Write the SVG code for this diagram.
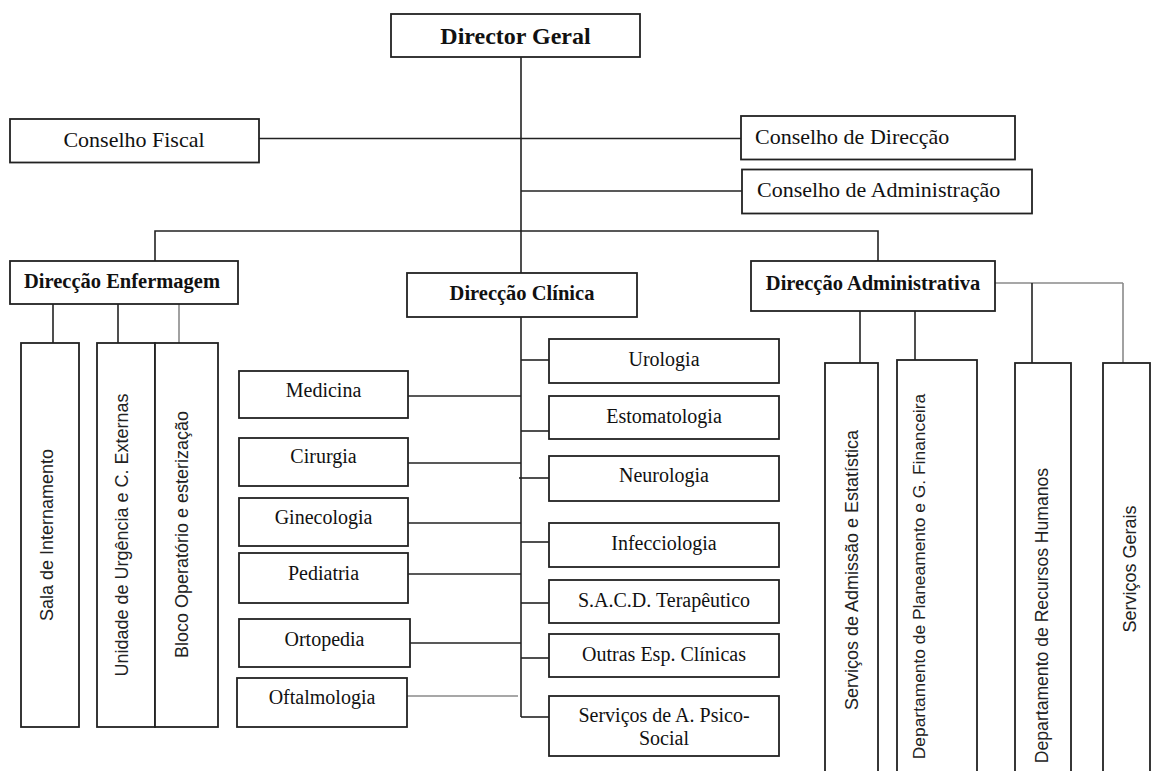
<svg xmlns="http://www.w3.org/2000/svg" width="1152" height="771" viewBox="0 0 1152 771">
<style>
  .box { fill: #ffffff; stroke: #222222; stroke-width: 1.8; }
  .ln { fill: none; stroke: #222222; stroke-width: 1.6; }
  .lg { fill: none; stroke: #8a8a8a; stroke-width: 1.6; }
  .t { font-family: "Liberation Serif", "Times New Roman", serif; font-size: 20px; fill: #111111; text-anchor: middle; }
  .tb { font-family: "Liberation Serif", "Times New Roman", serif; font-size: 20.5px; font-weight: bold; fill: #111111; text-anchor: middle; }
  .tc { font-family: "Liberation Serif", "Times New Roman", serif; font-size: 22px; fill: #111111; }
  .tv { font-family: "Liberation Sans", Arial, sans-serif; font-size: 18px; fill: #222222; text-anchor: middle; }
</style>
<rect x="0" y="0" width="1152" height="771" fill="#ffffff"/>

<g id="connectors">
  <!-- main trunk -->
  <line class="ln" x1="521" y1="57" x2="521" y2="273"/>
  <line class="ln" x1="259" y1="138.5" x2="741" y2="138.5"/>
  <line class="ln" x1="521" y1="191" x2="742" y2="191"/>
  <polyline class="ln" points="155,261 155,231 878,231 878,261"/>
  <!-- Enfermagem children -->
  <line class="ln" x1="53" y1="304" x2="53" y2="343" stroke="#555"/>
  <line class="ln" x1="118" y1="304" x2="118" y2="343"/>
  <line class="lg" x1="179" y1="304" x2="179" y2="343"/>
  <!-- Clinica trunk -->
  <line class="ln" x1="521" y1="317" x2="521" y2="717"/>
  <line class="ln" x1="408" y1="396" x2="521" y2="396"/>
  <line class="ln" x1="408" y1="463" x2="521" y2="463"/>
  <line class="ln" x1="408" y1="523" x2="521" y2="523"/>
  <line class="ln" x1="408" y1="574" x2="521" y2="574"/>
  <line class="ln" x1="410" y1="643" x2="521" y2="643"/>
  <line class="lg" x1="407" y1="696" x2="518" y2="696"/>
  <line class="ln" x1="521" y1="360" x2="549" y2="360"/>
  <line class="ln" x1="521" y1="431" x2="549" y2="431"/>
  <line class="ln" x1="519" y1="478" x2="549" y2="478"/>
  <line class="ln" x1="521" y1="542" x2="549" y2="542"/>
  <line class="ln" x1="521" y1="603" x2="549" y2="603"/>
  <line class="ln" x1="521" y1="658" x2="549" y2="658"/>
  <line class="ln" x1="521" y1="717" x2="549" y2="717"/>
  <!-- Administrativa children -->
  <line class="ln" x1="860" y1="311" x2="860" y2="363"/>
  <line class="ln" x1="915" y1="311" x2="915" y2="360"/>
  <line class="lg" x1="995" y1="283" x2="1123" y2="283"/>
  <line class="ln" x1="1032" y1="283" x2="1032" y2="363"/>
  <line class="lg" x1="1123" y1="283" x2="1123" y2="363"/>
</g>

<g id="director-geral">
  <rect class="box" x="391" y="14" width="249" height="43"/>
  <text class="tb" x="515.5" y="43.5" style="font-size:24px">Director Geral</text>
</g>
<g id="conselho-fiscal">
  <rect class="box" x="10" y="119" width="249" height="43.5"/>
  <text class="tc" x="134" y="147" text-anchor="middle">Conselho Fiscal</text>
</g>
<g id="conselho-direccao">
  <rect class="box" x="741" y="116" width="274" height="43.5"/>
  <text class="tc" x="755" y="143.5">Conselho de Direcção</text>
</g>
<g id="conselho-administracao">
  <rect class="box" x="742" y="169.5" width="290" height="44"/>
  <text class="tc" x="757" y="197">Conselho de Administração</text>
</g>

<g id="direccao-enfermagem">
  <rect class="box" x="10" y="261" width="228" height="43"/>
  <text class="tb" x="122" y="288">Direcção Enfermagem</text>
</g>
<g id="direccao-clinica">
  <rect class="box" x="407" y="273" width="230" height="44"/>
  <text class="tb" x="522" y="300">Direcção Clínica</text>
</g>
<g id="direccao-administrativa">
  <rect class="box" x="751" y="261" width="244" height="50"/>
  <text class="tb" x="873" y="289.5">Direcção Administrativa</text>
</g>

<g id="sala-internamento">
  <rect class="box" x="21" y="343" width="58" height="384"/>
  <text class="tv" x="53" y="535" transform="rotate(-90 53 535)">Sala de Internamento</text>
</g>
<g id="unidade-urgencia">
  <rect class="box" x="97" y="343" width="58" height="384"/>
  <text class="tv" x="128" y="535" transform="rotate(-90 128 535)">Unidade de Urgência e C. Externas</text>
</g>
<g id="bloco-operatorio">
  <rect class="box" x="155" y="343" width="63" height="384"/>
  <text class="tv" x="188" y="534.5" transform="rotate(-90 188 534.5)">Bloco Operatório e esterização</text>
</g>

<g id="medicina">
  <rect class="box" x="239" y="371" width="169" height="47"/>
  <text class="t" x="323.5" y="397">Medicina</text>
</g>
<g id="cirurgia">
  <rect class="box" x="239" y="438" width="169" height="48"/>
  <text class="t" x="323.5" y="463">Cirurgia</text>
</g>
<g id="ginecologia">
  <rect class="box" x="239" y="498" width="169" height="48"/>
  <text class="t" x="323.5" y="524">Ginecologia</text>
</g>
<g id="pediatria">
  <rect class="box" x="239" y="553" width="169" height="50"/>
  <text class="t" x="323.5" y="579.5">Pediatria</text>
</g>
<g id="ortopedia">
  <rect class="box" x="239" y="619" width="171" height="48"/>
  <text class="t" x="324.5" y="645.5">Ortopedia</text>
</g>
<g id="oftalmologia">
  <rect class="box" x="237" y="678" width="170" height="49"/>
  <text class="t" x="322" y="704">Oftalmologia</text>
</g>

<g id="urologia">
  <rect class="box" x="549" y="339" width="230" height="44"/>
  <text class="t" x="664" y="366">Urologia</text>
</g>
<g id="estomatologia">
  <rect class="box" x="549" y="396" width="230" height="43"/>
  <text class="t" x="664" y="423">Estomatologia</text>
</g>
<g id="neurologia">
  <rect class="box" x="549" y="456" width="230" height="45"/>
  <text class="t" x="664" y="482">Neurologia</text>
</g>
<g id="infecciologia">
  <rect class="box" x="549" y="523" width="230" height="44"/>
  <text class="t" x="664" y="549.5">Infecciologia</text>
</g>
<g id="sacd-terapeutico">
  <rect class="box" x="549" y="580" width="230" height="43"/>
  <text class="t" x="664" y="607">S.A.C.D. Terapêutico</text>
</g>
<g id="outras-esp-clinicas">
  <rect class="box" x="549" y="634" width="230" height="43"/>
  <text class="t" x="664" y="661">Outras Esp. Clínicas</text>
</g>
<g id="servicos-psico-social">
  <rect class="box" x="549" y="696" width="230" height="60"/>
  <text class="t" x="664" y="722">Serviços de A. Psico-</text>
  <text class="t" x="664" y="745">Social</text>
</g>

<g id="servicos-admissao">
  <rect class="box" x="825" y="363" width="53" height="440"/>
  <text class="tv" x="858" y="570" transform="rotate(-90 858 570)">Serviços de Admissão e Estatística</text>
</g>
<g id="departamento-planeamento">
  <rect class="box" x="897" y="360" width="80" height="440"/>
  <text class="tv" x="925" y="576.5" style="font-size:17.4px" transform="rotate(-90 925 576.5)">Departamento de Planeamento e G. Financeira</text>
</g>
<g id="departamento-recursos-humanos">
  <rect class="box" x="1015" y="363" width="56" height="440"/>
  <text class="tv" x="1048" y="615.5" style="font-size:17.6px" transform="rotate(-90 1048 615.5)">Departamento de Recursos Humanos</text>
</g>
<g id="servicos-gerais">
  <rect class="box" x="1103" y="363" width="47" height="440"/>
  <text class="tv" x="1136" y="569" transform="rotate(-90 1136 569)">Serviços Gerais</text>
</g>
</svg>
